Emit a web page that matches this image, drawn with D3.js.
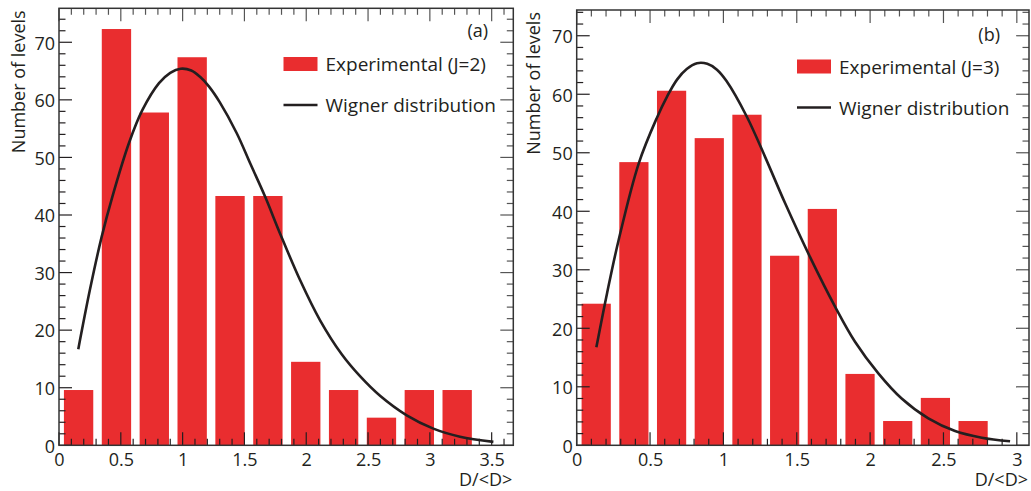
<!DOCTYPE html>
<html>
<head>
<meta charset="utf-8">
<script src="https://cdn.jsdelivr.net/npm/d3@7"></script>
<style>
  html, body { margin: 0; padding: 0; background: #fff; }
  svg { display: block; }
  text { font-family: "Open Sans", "Noto Sans", sans-serif; fill: #231f20; }
</style>
</head>
<body>
<svg id="chart" width="1031" height="491"></svg>
<script>
// ---------- Data ----------
// Panel (a): J=2, 12 bins over [0, 3.675], last bin empty
const valuesA = [9.6, 72.3, 57.8, 67.4, 43.3, 43.3, 14.5, 9.6, 4.8, 9.6, 9.6];
const binWidthA = 0.30625;
const curveAx = [0.156, 0.25, 0.345, 0.432, 0.566, 0.674, 0.809, 0.90, 0.984, 1.07, 1.141, 1.214, 1.30, 1.438, 1.55, 1.667, 1.788, 1.95, 2.112, 2.287, 2.435, 2.597, 2.813, 3.028, 3.244, 3.514];
const curveAy = [16.7, 27.0, 36.2, 43.2, 52.5, 58.2, 62.9, 64.7, 65.4, 65.1, 64.0, 62.3, 59.6, 54.2, 48.8, 43.2, 36.8, 28.7, 21.7, 15.8, 12.0, 8.6, 5.2, 2.9, 1.5, 0.6];

// Panel (b): J=3, 12 bins over [0, 3.083], last bin empty
const valuesB = [24.2, 48.4, 60.6, 52.5, 56.5, 32.4, 40.4, 12.2, 4.15, 8.1, 4.15];
const binWidthB = 0.2569;
const curveBx = [0.134, 0.207, 0.286, 0.423, 0.547, 0.616, 0.684, 0.75, 0.820, 0.89, 0.956, 1.02, 1.159, 1.284, 1.420, 1.590, 1.761, 1.897, 2.056, 2.215, 2.397, 2.579, 2.761, 2.954];
const curveBy = [16.75, 26.0, 35.1, 48.2, 56.0, 59.6, 62.5, 64.3, 65.3, 65.2, 64.2, 62.3, 56.2, 49.3, 41.4, 32.2, 23.7, 17.7, 12.3, 8.0, 4.6, 2.44, 1.3, 0.68];

const yTicks = [0, 10, 20, 30, 40, 50, 60, 70];
const xTicksA = [0, 0.5, 1, 1.5, 2, 2.5, 3, 3.5];
const xTicksB = [0, 0.5, 1, 1.5, 2, 2.5, 3];
const xTitle = "D/<D>";
const yTitle = "Number of levels";
const legendBar = ["Experimental (J=2)", "Experimental (J=3)"];
const legendLine = "Wigner distribution";
const panelLabels = ["(a)", "(b)"];

// ---------- Drawing ----------
const svg = d3.select("#chart");
const RED = "#e92d2f";
const INK = "#231f20";

function drawPanel(cfg) {
  const g = svg.append("g");
  const x = d3.scaleLinear().domain(cfg.xDomain).range([cfg.left, cfg.right]);
  const y = d3.scaleLinear().domain(cfg.yDomain).range([cfg.bottom, cfg.top]);

  // bars
  g.selectAll("rect.bar").data(cfg.values).enter().append("rect")
    .attr("class", "bar")
    .attr("x", (d, i) => x(i * cfg.binWidth + 0.13 * cfg.binWidth))
    .attr("width", (d, i) => x((i + 0.905) * cfg.binWidth) - x(i * cfg.binWidth + 0.13 * cfg.binWidth))
    .attr("y", d => y(d))
    .attr("height", d => y(0) - y(d))
    .attr("fill", RED);

  // curve
  const pts = cfg.cx.map((v, i) => [v, cfg.cy[i]]);
  g.append("path").datum(pts)
    .attr("d", d3.line().x(d => x(d[0])).y(d => y(d[1])).curve(d3.curveCatmullRom.alpha(0.5)))
    .attr("fill", "none").attr("stroke", INK).attr("stroke-width", 2.6);

  // ticks: left (major 13, minor 6.5), mirrored right; bottom and top
  const yMinor = d3.range(0, cfg.yDomain[1] + 0.001, 2);
  const xMinor = d3.range(0, cfg.xDomain[1] + 0.0001, 0.1);
  const isMajY = v => Math.abs(v / 10 - Math.round(v / 10)) < 1e-6;
  const isMajX = v => Math.abs(v / 0.5 - Math.round(v / 0.5)) < 1e-6;
  const tk = g.append("g").attr("stroke-width", 1.2);
  yMinor.forEach(v => {
    const L = isMajY(v) ? 13 : 6.5;
    tk.append("line").attr("x1", cfg.left).attr("x2", cfg.left + L)
      .attr("y1", y(v)).attr("y2", y(v)).attr("stroke", INK);
    tk.append("line").attr("x1", cfg.right).attr("x2", cfg.right - L)
      .attr("y1", y(v)).attr("y2", y(v)).attr("stroke", "#555");
  });
  xMinor.forEach(v => {
    const L = isMajX(v) ? 13 : 6.5;
    tk.append("line").attr("x1", x(v)).attr("x2", x(v))
      .attr("y1", cfg.bottom).attr("y2", cfg.bottom - L).attr("stroke", INK);
    tk.append("line").attr("x1", x(v)).attr("x2", x(v))
      .attr("y1", cfg.top).attr("y2", cfg.top + L).attr("stroke", "#555");
  });

  // frame
  g.append("rect").attr("x", cfg.left).attr("y", cfg.top)
    .attr("width", cfg.right - cfg.left).attr("height", cfg.bottom - cfg.top)
    .attr("fill", "none").attr("stroke", "#333").attr("stroke-width", 1.5);

  // axis labels via d3 axes (lines hidden, text only)
  const yAx = g.append("g").attr("transform", `translate(${cfg.left},0)`)
    .call(d3.axisLeft(y).tickValues(yTicks).tickSize(0).tickPadding(4).tickFormat(d3.format("d")));
  yAx.select(".domain").remove();
  yAx.selectAll("text").attr("font-size", 18).attr("font-family", null).attr("fill", INK).attr("dy", "0.38em");

  const xAx = g.append("g").attr("transform", `translate(0,${cfg.bottom})`)
    .call(d3.axisBottom(x).tickValues(cfg.xTicks).tickSize(0).tickPadding(8).tickFormat(d => String(d)));
  xAx.select(".domain").remove();
  xAx.selectAll("text").attr("font-size", 18).attr("font-family", null).attr("fill", INK);

  // titles
  g.append("text").attr("x", cfg.right - 1).attr("y", cfg.bottom + 41)
    .attr("text-anchor", "end").attr("font-size", 18).text(xTitle);
  g.append("text").attr("transform", `translate(${cfg.yTitleX},${cfg.top + 2}) rotate(-90)`)
    .attr("text-anchor", "end").attr("font-size", 18).text(yTitle);

  // panel label
  g.append("text").attr("x", cfg.labelX).attr("y", cfg.labelY)
    .attr("text-anchor", "end").attr("font-size", 18).text(cfg.label);

  // legend
  g.append("rect").attr("x", cfg.legX).attr("y", cfg.legY - 7)
    .attr("width", 34).attr("height", 14).attr("fill", RED);
  g.append("text").attr("x", cfg.legX + 42).attr("y", cfg.legY + 7)
    .attr("font-size", 19).text(cfg.legText);
  g.append("line").attr("x1", cfg.legX).attr("x2", cfg.legX + 34)
    .attr("y1", cfg.legY + 41).attr("y2", cfg.legY + 41)
    .attr("stroke", INK).attr("stroke-width", 2.6);
  g.append("text").attr("x", cfg.legX + 42).attr("y", cfg.legY + 48)
    .attr("font-size", 19).text(legendLine);
}

drawPanel({
  left: 59, right: 513.3, top: 8.3, bottom: 445.3,
  xDomain: [0, 3.675], yDomain: [0, 75.9],
  values: valuesA, binWidth: binWidthA, cx: curveAx, cy: curveAy,
  xTicks: xTicksA, yTitleX: 25, label: panelLabels[0], labelX: 488, labelY: 37,
  legX: 283.5, legY: 64, legText: legendBar[0]
});
drawPanel({
  left: 576.7, right: 1029, top: 10, bottom: 445.3,
  xDomain: [0, 3.083], yDomain: [0, 74.4],
  values: valuesB, binWidth: binWidthB, cx: curveBx, cy: curveBy,
  xTicks: xTicksB, yTitleX: 540, label: panelLabels[1], labelX: 1000, labelY: 41,
  legX: 797, legY: 66.5, legText: legendBar[1]
});
</script>
</body>
</html>
